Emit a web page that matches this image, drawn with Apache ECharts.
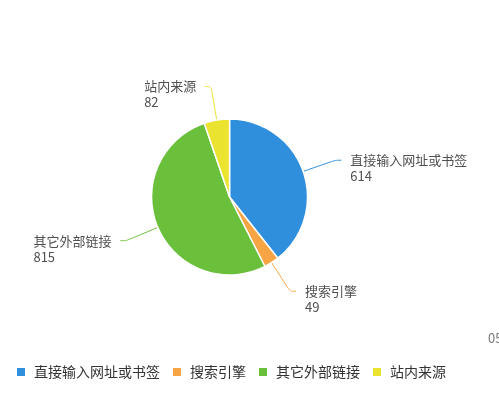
<!DOCTYPE html>
<html>
<head>
<meta charset="utf-8">
<script src="https://cdn.jsdelivr.net/npm/echarts@6/dist/echarts.min.js"></script>
<style>
html,body{margin:0;padding:0;background:#fff;}
#main{width:499px;height:402px;}
</style>
</head>
<body>
<div id="main"></div>
<script>
var categories = ['直接输入网址或书签', '搜索引擎', '其它外部链接', '站内来源'];
var values = [614, 49, 815, 82];
var colors = ['#2f8fdc', '#f6a444', '#6abf3b', '#eae330'];

var chart = echarts.init(document.getElementById('main'));
var font = '"Noto Sans CJK SC", "Microsoft YaHei", sans-serif';
chart.setOption({
  animation: false,
  color: colors,
  textStyle: { fontFamily: font },
  legend: {
    data: categories,
    left: 10,
    bottom: 18,
    icon: 'rect',
    itemWidth: 10,
    itemHeight: 10,
    itemGap: 11,
    textStyle: { fontSize: 14, color: '#333', fontFamily: font, padding: [0, 0, 0, 3] }
  },
  graphic: [{
    type: 'text',
    left: 488,
    top: 332,
    style: { text: '05', fontSize: 13, fill: '#777', fontFamily: font }
  }],
  series: [{
    type: 'pie',
    center: ['46%', '49%'],
    radius: 78,
    startAngle: 90,
    avoidLabelOverlap: false,
    itemStyle: { borderColor: '#fff', borderWidth: 1.5 },
    label: {
      show: true,
      formatter: '{e|}\n{n|{b}}\n{n|{c}}',
      fontSize: 13,
      lineHeight: 16,
      color: '#505050',
      fontFamily: font,
      distanceToLabelLine: 9,
      rich: {
        e: { fontSize: 13, lineHeight: 16 },
        n: { fontSize: 13, lineHeight: 16, color: '#505050', align: 'left', fontFamily: font }
      }
    },
    labelLine: { show: true, length: 34, length2: 6, smooth: true, lineStyle: { width: 1 } },
    data: categories.map(function (c, i) { return { name: c, value: values[i] }; })
  }]
});
</script>
</body>
</html>
